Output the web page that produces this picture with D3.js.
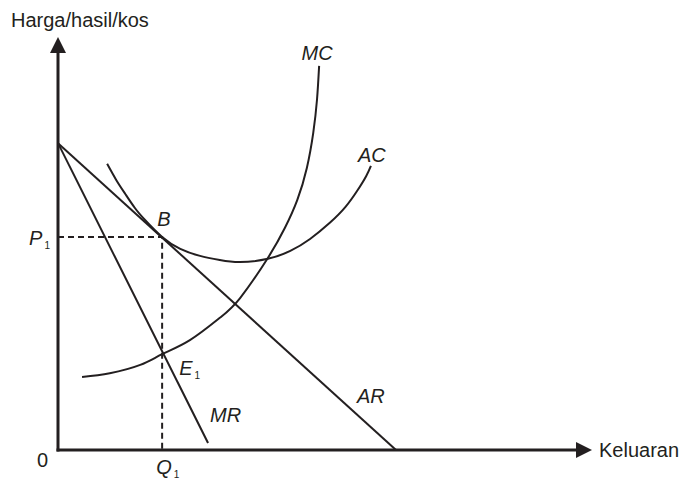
<!DOCTYPE html>
<html lang="en">
<head>
    <meta charset="UTF-8">
    <title>Monopoli: AR, MR, AC, MC</title>
    <script src="https://d3js.org/d3.v7.min.js"></script>
    <style>
        body { margin: 0; background: #fff; }
        text { font-family: "Liberation Sans", Arial, sans-serif; fill: #231f20; }
    </style>
</head>
<body>
    <script>
        // chart values, in plain "units" (quantity 0-100, price 0-100)
        var arLine = [[0, 74.3], [63.3, 0]];
        var mrLine = [[0, 74.3], [28.1, 1.7]];
        var mcCurve = [[4.5, 17.7], [9.7, 18.6], [15.4, 20.6], [19.5, 23.2], [24.7, 26.6],
                       [30.3, 32.0], [34.1, 36.8], [39.3, 46.5], [42.5, 53.8], [44.8, 60.5],
                       [46.6, 68.3], [47.8, 76.8], [48.5, 84.8], [48.9, 93.0]];
        var acCurve = [[9.2, 69.3], [10.9, 65.4], [12.6, 62.0], [14.4, 58.6], [16.3, 55.7],
                       [19.5, 51.6], [22.9, 48.7], [26.6, 47.0], [30.3, 46.0], [34.1, 45.5],
                       [39.3, 46.3], [43.5, 48.2], [47.2, 51.1], [50.9, 55.0],
                       [53.8, 58.8], [56.0, 62.7], [57.7, 66.3], [58.6, 68.8]];
        var pointB = [19.5, 51.6];
        var pointE1 = [19.5, 23.2];
        var yTitle = 'Harga/hasil/kos';
        var xTitle = 'Keluaran';

        var w = 684;
        var h = 479;
        var ink = '#231f20';
        var fs = 20;

        var xScale = d3.scaleLinear().domain([0, 100]).range([58, 592]);
        var yScale = d3.scaleLinear().domain([0, 100]).range([450, 37]);

        var svg = d3.select('body')
                    .append('svg')
                    .attr('width', w)
                    .attr('height', h);

        var line = d3.line()
                     .x(function(d) { return xScale(d[0]); })
                     .y(function(d) { return yScale(d[1]); });
        var smooth = d3.line()
                       .x(function(d) { return xScale(d[0]); })
                       .y(function(d) { return yScale(d[1]); })
                       .curve(d3.curveNatural);

        // dashed guides for P1 and Q1
        svg.append('path')
           .attr('d', line([[0, pointB[1]], pointB, [pointB[0], 0]]))
           .attr('fill', 'none')
           .attr('stroke', ink)
           .attr('stroke-width', 2)
           .attr('stroke-dasharray', '6,4');

        // curves
        [[arLine, line], [mrLine, line], [mcCurve, smooth], [acCurve, smooth]].forEach(function(c) {
            svg.append('path')
               .attr('d', c[1](c[0]))
               .attr('fill', 'none')
               .attr('stroke', ink)
               .attr('stroke-width', 2);
        });

        // axes with arrow heads
        var x0 = xScale(0), y0 = yScale(0);
        var yTop = yScale(100), xEnd = xScale(100);
        svg.append('line')
           .attr('x1', x0).attr('y1', y0 + 1.5)
           .attr('x2', x0).attr('y2', yTop + 14)
           .attr('stroke', ink).attr('stroke-width', 3);
        svg.append('line')
           .attr('x1', x0 - 1.5).attr('y1', y0)
           .attr('x2', xEnd - 14).attr('y2', y0)
           .attr('stroke', ink).attr('stroke-width', 3);
        svg.append('path')
           .attr('d', 'M' + x0 + ',' + yTop + 'L' + (x0 - 8) + ',' + (yTop + 16) + 'L' + (x0 + 8) + ',' + (yTop + 16) + 'Z')
           .attr('fill', ink);
        svg.append('path')
           .attr('d', 'M' + xEnd + ',' + y0 + 'L' + (xEnd - 16) + ',' + (y0 - 8) + 'L' + (xEnd - 16) + ',' + (y0 + 8) + 'Z')
           .attr('fill', ink);

        // axis titles
        svg.append('text')
           .attr('x', 11).attr('y', 27)
           .attr('font-size', fs)
           .text(yTitle);
        svg.append('text')
           .attr('x', xEnd + 7).attr('y', y0 + 7)
           .attr('font-size', fs)
           .text(xTitle);
        svg.append('text')
           .attr('x', x0 - 10).attr('y', y0 + 17)
           .attr('text-anchor', 'end')
           .attr('font-size', fs)
           .text('0');

        // italic label with optional subscript
        function label(x, y, main, sub, anchor) {
            var t = svg.append('text')
                       .attr('x', x).attr('y', y)
                       .attr('font-size', fs)
                       .attr('text-anchor', anchor || 'start');
            t.append('tspan').attr('font-style', 'italic').text(main);
            if (sub) {
                t.append('tspan')
                 .attr('font-size', 10)
                 .attr('dx', 2)
                 .attr('dy', 4)
                 .text(sub);
            }
        }

        label(x0 - 8, yScale(pointB[1]) + 8, 'P', '1', 'end');
        label(xScale(pointB[0]) - 6, y0 + 24, 'Q', '1');
        label(xScale(pointB[0]) - 5, yScale(pointB[1]) - 11, 'B');
        label(xScale(pointE1[0]) + 17, yScale(pointE1[1]) + 21, 'E', '1');

        var mcTop = mcCurve[mcCurve.length - 1];
        var acTop = acCurve[acCurve.length - 1];
        var mrEnd = mrLine[1];
        var arEnd = arLine[1];
        label(xScale(mcTop[0]) - 2, yScale(mcTop[1]) - 6, 'MC', null, 'middle');
        label(xScale(acTop[0]) + 1, yScale(acTop[1]) - 4, 'AC', null, 'middle');
        label(xScale(mrEnd[0]) + 2, yScale(mrEnd[1]) - 21, 'MR');
        label(xScale(arEnd[0]) - 39, yScale(arEnd[1]) - 47, 'AR');
    </script>
</body>
</html>
